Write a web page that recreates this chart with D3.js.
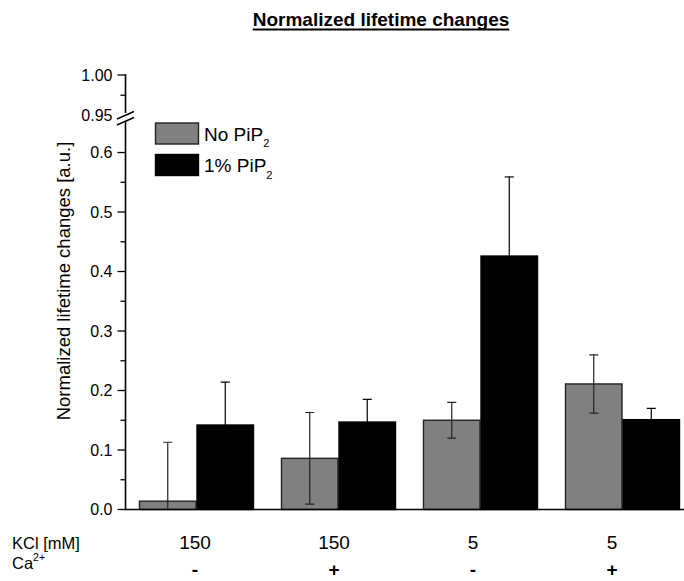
<!DOCTYPE html>
<html>
<head>
<meta charset="utf-8">
<script src="https://cdn.jsdelivr.net/npm/d3@7"></script>
<style>
  html, body { margin: 0; padding: 0; background: #fff; }
  svg { display: block; font-family: "Liberation Sans", Arial, sans-serif; }
</style>
</head>
<body>
<svg id="chart" width="684" height="581"></svg>
<script>
// Conditions (one group of two bars each)
const groups = ["g1", "g2", "g3", "g4"];
const kclLabels = ["150", "150", "5", "5"];
const caLabels = ["-", "+", "-", "+"];

// Series: mean and error for each condition
const seriesNames = ["No PiP", "1% PiP"];
const noPipValues = [0.014, 0.086, 0.150, 0.211];
const noPipErrors = [0.099, 0.077, 0.030, 0.049];
const pipValues = [0.142, 0.147, 0.426, 0.151];
const pipErrors = [0.072, 0.038, 0.133, 0.019];

// Y axis ticks (lower and upper segments of the broken axis)
const lowerTicks = [0.0, 0.1, 0.2, 0.3, 0.4, 0.5, 0.6];
const lowerMinor = [0.05, 0.15, 0.25, 0.35, 0.45, 0.55];
const upperTicks = [0.95, 1.00];
const upperMinor = [0.975];

const colors = ["#808080", "#000000"];

const svg = d3.select("#chart");

// Scales
const x0 = d3.scaleBand().domain(groups).range([125.5, 693.5])
  .paddingInner(0.19).paddingOuter(0.095);
const x1 = d3.scaleBand().domain([0, 1]).range([0, x0.bandwidth()]);
const xLabel = d3.scalePoint().domain(groups).range([195, 612]);

const yLow = d3.scaleLinear().domain([0, 0.653]).range([509.5, 121]);
const yHigh = d3.scaleLinear().domain([0.95, 1.0]).range([115.5, 75]);

const axisX = 125.5;

// Title
const title = svg.append("text")
  .attr("x", 381).attr("y", 26)
  .attr("text-anchor", "middle")
  .attr("font-size", 19).attr("font-weight", "bold")
  .text("Normalized lifetime changes");
const tb = title.node().getBBox();
svg.append("line")
  .attr("x1", tb.x).attr("x2", tb.x + tb.width)
  .attr("y1", 29.5).attr("y2", 29.5)
  .attr("stroke", "#000").attr("stroke-width", 1.8);

// Bars
const data = groups.map((g, i) => ({
  g,
  vals: [
    { s: 0, v: noPipValues[i], e: noPipErrors[i] },
    { s: 1, v: pipValues[i], e: pipErrors[i] }
  ]
}));

const gGroups = svg.append("g").selectAll("g").data(data).join("g")
  .attr("transform", d => `translate(${x0(d.g)},0)`);

gGroups.selectAll("rect").data(d => d.vals).join("rect")
  .attr("x", d => x1(d.s) + 0.5)
  .attr("width", x1.bandwidth() - 1)
  .attr("y", d => yLow(d.v))
  .attr("height", d => yLow(0) - yLow(d.v))
  .attr("fill", d => colors[d.s])
  .attr("stroke", d => d.s === 0 ? "#222" : "#000")
  .attr("stroke-width", 1.4);

// Error bars, clipped at the baseline
svg.append("clipPath").attr("id", "plotclip")
  .append("rect").attr("x", axisX).attr("y", 0)
  .attr("width", 684 - axisX).attr("height", yLow(0) - 0.8);

const eb = svg.append("g").attr("clip-path", "url(#plotclip)")
  .selectAll("g").data(data).join("g")
  .attr("transform", d => `translate(${x0(d.g)},0)`);

eb.each(function(d) {
  const g = d3.select(this);
  d.vals.forEach(p => {
    const cx = x1(p.s) + x1.bandwidth() / 2;
    const top = yLow(p.v + p.e), bot = yLow(p.v - p.e);
    const col = p.s === 0 ? "#222" : "#000";
    g.append("line").attr("x1", cx).attr("x2", cx)
      .attr("y1", top).attr("y2", bot)
      .attr("stroke", col).attr("stroke-width", 1.2);
    [top, bot].forEach(yy => {
      g.append("line").attr("x1", cx - 4.5).attr("x2", cx + 4.5)
        .attr("y1", yy).attr("y2", yy)
        .attr("stroke", col).attr("stroke-width", 1.2);
    });
  });
});

// X axis baseline
svg.append("line")
  .attr("x1", axisX).attr("x2", 684)
  .attr("y1", yLow(0)).attr("y2", yLow(0))
  .attr("stroke", "#000").attr("stroke-width", 1.6);

// Y axis: lower segment
const axisG = svg.append("g");
axisG.append("line")
  .attr("x1", axisX).attr("x2", axisX)
  .attr("y1", yLow(0) + 0.8).attr("y2", yLow(0.653))
  .attr("stroke", "#000").attr("stroke-width", 1.6);
// upper segment
axisG.append("line")
  .attr("x1", axisX).attr("x2", axisX)
  .attr("y1", yHigh(1.0) - 0.8).attr("y2", 113)
  .attr("stroke", "#000").attr("stroke-width", 1.6);

function drawTicks(scale, major, minor, fmt) {
  major.forEach(t => {
    axisG.append("line")
      .attr("x1", axisX - 8).attr("x2", axisX)
      .attr("y1", scale(t)).attr("y2", scale(t))
      .attr("stroke", "#000").attr("stroke-width", 1.3);
    axisG.append("text")
      .attr("x", axisX - 13).attr("y", scale(t))
      .attr("dy", "0.35em").attr("text-anchor", "end")
      .attr("font-size", 16).text(fmt(t));
  });
  minor.forEach(t => {
    axisG.append("line")
      .attr("x1", axisX - 5).attr("x2", axisX)
      .attr("y1", scale(t)).attr("y2", scale(t))
      .attr("stroke", "#000").attr("stroke-width", 1.3);
  });
}
drawTicks(yLow, lowerTicks, lowerMinor, d3.format(".1f"));
drawTicks(yHigh, upperTicks.filter(t => t !== 0.95), upperMinor, d3.format(".2f"));
// 0.95 label sits on the break
axisG.append("text")
  .attr("x", axisX - 13).attr("y", yHigh(0.95))
  .attr("dy", "0.35em").attr("text-anchor", "end")
  .attr("font-size", 16).text(d3.format(".2f")(0.95));

// Axis break marks
const brk = svg.append("g");
brk.append("rect").attr("x", axisX - 2).attr("y", 113).attr("width", 4).attr("height", 7.5).attr("fill", "#fff");
[[0, 0], [0, 6]].forEach(([dx, dy]) => {
  brk.append("line")
    .attr("x1", 117).attr("y1", 119 + dy)
    .attr("x2", 134).attr("y2", 111.5 + dy)
    .attr("stroke", "#000").attr("stroke-width", 1.4);
});

// Y axis title
svg.append("text")
  .attr("transform", `translate(70,${281}) rotate(-90)`)
  .attr("text-anchor", "middle")
  .attr("font-size", 18.5)
  .text("Normalized lifetime changes [a.u.]");

// Legend
const legend = svg.append("g");
seriesNames.forEach((name, i) => {
  const ly = 123 + i * 31.5;
  legend.append("rect")
    .attr("x", 155.5).attr("y", ly)
    .attr("width", 43).attr("height", 21)
    .attr("fill", colors[i])
    .attr("stroke", i === 0 ? "#222" : "#000").attr("stroke-width", 1.4);
  const t = legend.append("text")
    .attr("x", 204).attr("y", ly + 17.5)
    .attr("font-size", 19);
  t.append("tspan").text(name);
  t.append("tspan").attr("font-size", 11).attr("dy", 6.5).text("2");
});

// Condition table under the axis
const table = svg.append("g").attr("font-size", 19);
table.append("text").attr("x", 12).attr("y", 549).attr("font-size", 16.5).text("KCl [mM]");
const ca = table.append("text").attr("x", 12).attr("y", 568.5).attr("font-size", 16.5);
ca.append("tspan").text("Ca");
ca.append("tspan").attr("font-size", 10.5).attr("dy", -8).text("2+");

table.selectAll("text.kcl").data(groups).join("text")
  .attr("class", "kcl")
  .attr("x", g => xLabel(g)).attr("y", 548.5)
  .attr("text-anchor", "middle")
  .text((g, i) => kclLabels[i]);

table.selectAll("text.ca").data(groups).join("text")
  .attr("class", "ca")
  .attr("x", g => xLabel(g)).attr("y", 576)
  .attr("text-anchor", "middle")
  .attr("font-weight", "bold")
  .text((g, i) => caLabels[i]);
</script>
</body>
</html>
